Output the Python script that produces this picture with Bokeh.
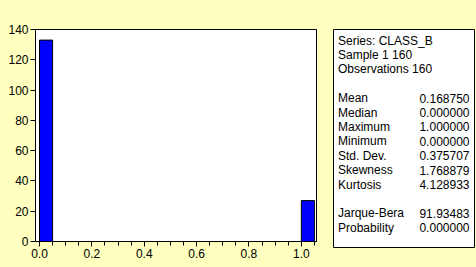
from bokeh.plotting import figure
from bokeh.models import Range1d, SingleIntervalTicker, PrintfTickFormatter
from bokeh.layouts import row, column
from bokeh.core.properties import value
from bokeh.embed import file_html
from bokeh.resources import INLINE

# ---- data ----
bin_left = [0.0, 1.0]
bin_width = 0.05
counts = [133, 27]

header_lines = ["Series: CLASS_B", "Sample 1 160", "Observations 160"]
stat_names = ["Mean", "Median", "Maximum", "Minimum", "Std. Dev.", "Skewness", "Kurtosis"]
stat_values = ["0.168750", "0.000000", "1.000000", "0.000000", "0.375707", "1.768879", "4.128933"]
test_names = ["Jarque-Bera", "Probability"]
test_values = ["91.93483", "0.000000"]

BG = "#FFFFC0"
FONT = value("Liberation Sans")

# ---- histogram ----
W1, H = 326, 267
p = figure(width=W1, height=H, x_range=Range1d(-0.0153, 1.058), y_range=Range1d(0, 140),
           output_backend="svg", toolbar_location=None, title=None,
           min_border_left=35, min_border_right=10, min_border_top=29, min_border_bottom=26)
p.background_fill_color = "white"
p.border_fill_color = BG
p.outline_line_color = "black"
p.xgrid.visible = False
p.ygrid.visible = False

p.quad(left=bin_left, right=[b + bin_width for b in bin_left], bottom=0, top=counts,
       fill_color="#0000FF", line_color="black", line_width=1)

p.xaxis.ticker = SingleIntervalTicker(interval=0.2, num_minor_ticks=4)
p.xaxis.formatter = PrintfTickFormatter(format="%.1f")
p.yaxis.ticker = SingleIntervalTicker(interval=20, num_minor_ticks=0)
for ax in (p.xaxis, p.yaxis):
    ax.axis_line_color = "black"
    ax.major_tick_line_color = "black"
    ax.minor_tick_line_color = "black"
    ax.major_tick_in = 0
    ax.minor_tick_in = 0
    ax.major_label_text_font = "Liberation Sans"
    ax.major_label_text_font_size = "12px"
    ax.major_label_text_color = "black"
    ax.major_label_standoff = 2
p.xaxis.major_tick_out = 5
p.xaxis.minor_tick_out = 4
p.yaxis.major_tick_out = 5
p.yaxis.minor_tick_out = 0

# ---- statistics panel: its frame is the box; coordinates in page pixels ----
box_l, box_r, box_t, box_b = 333, 474, 29, 247
W2 = 476 - W1
s = figure(width=W2, height=H, x_range=Range1d(box_l, box_r), y_range=Range1d(box_b, box_t),
           output_backend="svg", toolbar_location=None, title=None,
           x_axis_location=None, y_axis_location=None,
           min_border_left=box_l - W1, min_border_right=476 - box_r,
           min_border_top=box_t, min_border_bottom=H - box_b)
s.xgrid.visible = False
s.ygrid.visible = False
s.outline_line_color = "black"
s.background_fill_color = "white"
s.border_fill_color = BG

y0 = 40.0
step = 14.4
left_txt, left_y, right_txt, right_y = [], [], [], []
i = 0
for t in header_lines:
    left_txt.append(t); left_y.append(y0 + i * step); i += 1
i += 1
for n, v in zip(stat_names, stat_values):
    left_txt.append(n); left_y.append(y0 + i * step)
    right_txt.append(v); right_y.append(y0 + i * step); i += 1
i += 1
for n, v in zip(test_names, test_values):
    left_txt.append(n); left_y.append(y0 + i * step)
    right_txt.append(v); right_y.append(y0 + i * step); i += 1

s.text(x=[box_l + 4.5] * len(left_txt), y=left_y, text=left_txt, text_font=FONT,
       text_font_size="12px", text_baseline="middle", text_align="left", text_color="black")
s.text(x=[box_r - 5] * len(right_txt), y=right_y, text=right_txt, text_font=FONT,
       text_font_size="12px", text_baseline="middle", text_align="right", text_color="black")

layout = row(column(p), column(s))
tmpl = ("{% block postamble %}<style>html,body{margin:0;padding:0;background-color:"
        + BG + ";}</style>{% endblock %}")
open("out.html", "w").write(file_html(layout, INLINE, template=tmpl))
